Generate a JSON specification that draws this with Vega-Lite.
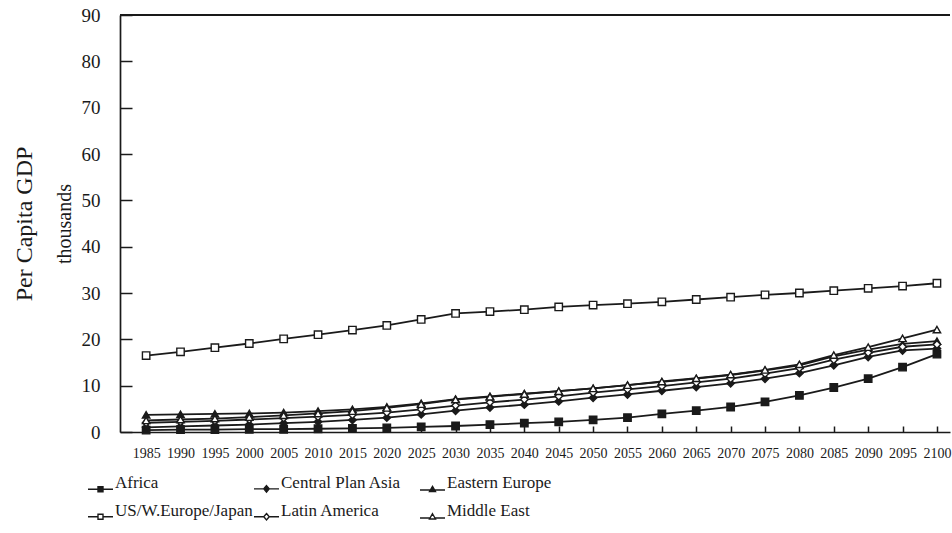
{
  "$schema": "https://vega.github.io/schema/vega-lite/v6.json",
  "width": 830,
  "height": 417,
  "autosize": {"type": "none"},
  "padding": {"left": 120, "top": 15, "right": 2, "bottom": 101},
  "background": "white",
  "config": {
    "view": {"stroke": null},
    "font": "Liberation Serif",
    "axis": {
      "labelFont": "Liberation Serif",
      "titleFont": "Liberation Serif",
      "labelColor": "#1a1a1a",
      "titleColor": "#1a1a1a",
      "domainColor": "#1a1a1a",
      "tickColor": "#1a1a1a",
      "domainWidth": 1.7,
      "tickWidth": 1.5,
      "grid": false,
      "titleFontWeight": "normal"
    },
    "legend": {
      "title": null,
      "orient": "none",
      "direction": "horizontal",
      "legendX": -33,
      "legendY": 454,
      "columns": 3,
      "gridAlign": "all",
      "columnPadding": -4,
      "rowPadding": 2,
      "padding": 0,
      "symbolSize": 625,
      "symbolOpacity": 1,
      "symbolStrokeWidth": 1.4,
      "labelFont": "Liberation Serif",
      "labelFontSize": 17,
      "labelColor": "#1a1a1a",
      "labelOffset": 1,
      "labelLimit": 0
    }
  },
  "data": {"values": [
    {"region": "Africa", "year": 1985, "gdp": 0.4}, {"region": "Africa", "year": 1990, "gdp": 0.5}, {"region": "Africa", "year": 1995, "gdp": 0.5}, {"region": "Africa", "year": 2000, "gdp": 0.6}, {"region": "Africa", "year": 2005, "gdp": 0.6}, {"region": "Africa", "year": 2010, "gdp": 0.7}, {"region": "Africa", "year": 2015, "gdp": 0.8}, {"region": "Africa", "year": 2020, "gdp": 0.9}, {"region": "Africa", "year": 2025, "gdp": 1.1}, {"region": "Africa", "year": 2030, "gdp": 1.3}, {"region": "Africa", "year": 2035, "gdp": 1.6}, {"region": "Africa", "year": 2040, "gdp": 1.9}, {"region": "Africa", "year": 2045, "gdp": 2.2}, {"region": "Africa", "year": 2050, "gdp": 2.6}, {"region": "Africa", "year": 2055, "gdp": 3.1}, {"region": "Africa", "year": 2060, "gdp": 3.9}, {"region": "Africa", "year": 2065, "gdp": 4.6}, {"region": "Africa", "year": 2070, "gdp": 5.4}, {"region": "Africa", "year": 2075, "gdp": 6.5}, {"region": "Africa", "year": 2080, "gdp": 7.9}, {"region": "Africa", "year": 2085, "gdp": 9.6}, {"region": "Africa", "year": 2090, "gdp": 11.5}, {"region": "Africa", "year": 2095, "gdp": 14.0}, {"region": "Africa", "year": 2100, "gdp": 16.8},
    {"region": "Central Plan Asia", "year": 1985, "gdp": 1.0}, {"region": "Central Plan Asia", "year": 1990, "gdp": 1.2}, {"region": "Central Plan Asia", "year": 1995, "gdp": 1.4}, {"region": "Central Plan Asia", "year": 2000, "gdp": 1.6}, {"region": "Central Plan Asia", "year": 2005, "gdp": 1.9}, {"region": "Central Plan Asia", "year": 2010, "gdp": 2.2}, {"region": "Central Plan Asia", "year": 2015, "gdp": 2.6}, {"region": "Central Plan Asia", "year": 2020, "gdp": 3.1}, {"region": "Central Plan Asia", "year": 2025, "gdp": 3.8}, {"region": "Central Plan Asia", "year": 2030, "gdp": 4.6}, {"region": "Central Plan Asia", "year": 2035, "gdp": 5.3}, {"region": "Central Plan Asia", "year": 2040, "gdp": 5.9}, {"region": "Central Plan Asia", "year": 2045, "gdp": 6.6}, {"region": "Central Plan Asia", "year": 2050, "gdp": 7.4}, {"region": "Central Plan Asia", "year": 2055, "gdp": 8.1}, {"region": "Central Plan Asia", "year": 2060, "gdp": 8.9}, {"region": "Central Plan Asia", "year": 2065, "gdp": 9.7}, {"region": "Central Plan Asia", "year": 2070, "gdp": 10.5}, {"region": "Central Plan Asia", "year": 2075, "gdp": 11.5}, {"region": "Central Plan Asia", "year": 2080, "gdp": 12.7}, {"region": "Central Plan Asia", "year": 2085, "gdp": 14.4}, {"region": "Central Plan Asia", "year": 2090, "gdp": 16.2}, {"region": "Central Plan Asia", "year": 2095, "gdp": 17.6}, {"region": "Central Plan Asia", "year": 2100, "gdp": 18.0},
    {"region": "Eastern Europe", "year": 1985, "gdp": 3.7}, {"region": "Eastern Europe", "year": 1990, "gdp": 3.8}, {"region": "Eastern Europe", "year": 1995, "gdp": 3.9}, {"region": "Eastern Europe", "year": 2000, "gdp": 4.0}, {"region": "Eastern Europe", "year": 2005, "gdp": 4.2}, {"region": "Eastern Europe", "year": 2010, "gdp": 4.5}, {"region": "Eastern Europe", "year": 2015, "gdp": 4.9}, {"region": "Eastern Europe", "year": 2020, "gdp": 5.4}, {"region": "Eastern Europe", "year": 2025, "gdp": 6.2}, {"region": "Eastern Europe", "year": 2030, "gdp": 7.1}, {"region": "Eastern Europe", "year": 2035, "gdp": 7.7}, {"region": "Eastern Europe", "year": 2040, "gdp": 8.3}, {"region": "Eastern Europe", "year": 2045, "gdp": 8.8}, {"region": "Eastern Europe", "year": 2050, "gdp": 9.4}, {"region": "Eastern Europe", "year": 2055, "gdp": 10.1}, {"region": "Eastern Europe", "year": 2060, "gdp": 10.8}, {"region": "Eastern Europe", "year": 2065, "gdp": 11.5}, {"region": "Eastern Europe", "year": 2070, "gdp": 12.3}, {"region": "Eastern Europe", "year": 2075, "gdp": 13.3}, {"region": "Eastern Europe", "year": 2080, "gdp": 14.4}, {"region": "Eastern Europe", "year": 2085, "gdp": 16.3}, {"region": "Eastern Europe", "year": 2090, "gdp": 17.8}, {"region": "Eastern Europe", "year": 2095, "gdp": 19.0}, {"region": "Eastern Europe", "year": 2100, "gdp": 19.6},
    {"region": "US/W.Europe/Japan", "year": 1985, "gdp": 16.5}, {"region": "US/W.Europe/Japan", "year": 1990, "gdp": 17.3}, {"region": "US/W.Europe/Japan", "year": 1995, "gdp": 18.2}, {"region": "US/W.Europe/Japan", "year": 2000, "gdp": 19.1}, {"region": "US/W.Europe/Japan", "year": 2005, "gdp": 20.1}, {"region": "US/W.Europe/Japan", "year": 2010, "gdp": 21.0}, {"region": "US/W.Europe/Japan", "year": 2015, "gdp": 22.0}, {"region": "US/W.Europe/Japan", "year": 2020, "gdp": 23.0}, {"region": "US/W.Europe/Japan", "year": 2025, "gdp": 24.3}, {"region": "US/W.Europe/Japan", "year": 2030, "gdp": 25.6}, {"region": "US/W.Europe/Japan", "year": 2035, "gdp": 26.0}, {"region": "US/W.Europe/Japan", "year": 2040, "gdp": 26.4}, {"region": "US/W.Europe/Japan", "year": 2045, "gdp": 27.0}, {"region": "US/W.Europe/Japan", "year": 2050, "gdp": 27.4}, {"region": "US/W.Europe/Japan", "year": 2055, "gdp": 27.7}, {"region": "US/W.Europe/Japan", "year": 2060, "gdp": 28.1}, {"region": "US/W.Europe/Japan", "year": 2065, "gdp": 28.6}, {"region": "US/W.Europe/Japan", "year": 2070, "gdp": 29.1}, {"region": "US/W.Europe/Japan", "year": 2075, "gdp": 29.6}, {"region": "US/W.Europe/Japan", "year": 2080, "gdp": 30.0}, {"region": "US/W.Europe/Japan", "year": 2085, "gdp": 30.5}, {"region": "US/W.Europe/Japan", "year": 2090, "gdp": 31.0}, {"region": "US/W.Europe/Japan", "year": 2095, "gdp": 31.5}, {"region": "US/W.Europe/Japan", "year": 2100, "gdp": 32.1},
    {"region": "Latin America", "year": 1985, "gdp": 2.0}, {"region": "Latin America", "year": 1990, "gdp": 2.2}, {"region": "Latin America", "year": 1995, "gdp": 2.4}, {"region": "Latin America", "year": 2000, "gdp": 2.7}, {"region": "Latin America", "year": 2005, "gdp": 3.0}, {"region": "Latin America", "year": 2010, "gdp": 3.3}, {"region": "Latin America", "year": 2015, "gdp": 3.7}, {"region": "Latin America", "year": 2020, "gdp": 4.2}, {"region": "Latin America", "year": 2025, "gdp": 4.9}, {"region": "Latin America", "year": 2030, "gdp": 5.7}, {"region": "Latin America", "year": 2035, "gdp": 6.4}, {"region": "Latin America", "year": 2040, "gdp": 7.0}, {"region": "Latin America", "year": 2045, "gdp": 7.7}, {"region": "Latin America", "year": 2050, "gdp": 8.5}, {"region": "Latin America", "year": 2055, "gdp": 9.2}, {"region": "Latin America", "year": 2060, "gdp": 9.9}, {"region": "Latin America", "year": 2065, "gdp": 10.7}, {"region": "Latin America", "year": 2070, "gdp": 11.5}, {"region": "Latin America", "year": 2075, "gdp": 12.6}, {"region": "Latin America", "year": 2080, "gdp": 13.8}, {"region": "Latin America", "year": 2085, "gdp": 15.6}, {"region": "Latin America", "year": 2090, "gdp": 17.1}, {"region": "Latin America", "year": 2095, "gdp": 18.4}, {"region": "Latin America", "year": 2100, "gdp": 18.9},
    {"region": "Middle East", "year": 1985, "gdp": 2.5}, {"region": "Middle East", "year": 1990, "gdp": 2.7}, {"region": "Middle East", "year": 1995, "gdp": 2.9}, {"region": "Middle East", "year": 2000, "gdp": 3.2}, {"region": "Middle East", "year": 2005, "gdp": 3.6}, {"region": "Middle East", "year": 2010, "gdp": 4.0}, {"region": "Middle East", "year": 2015, "gdp": 4.5}, {"region": "Middle East", "year": 2020, "gdp": 5.2}, {"region": "Middle East", "year": 2025, "gdp": 6.0}, {"region": "Middle East", "year": 2030, "gdp": 7.0}, {"region": "Middle East", "year": 2035, "gdp": 7.6}, {"region": "Middle East", "year": 2040, "gdp": 8.2}, {"region": "Middle East", "year": 2045, "gdp": 8.8}, {"region": "Middle East", "year": 2050, "gdp": 9.4}, {"region": "Middle East", "year": 2055, "gdp": 10.1}, {"region": "Middle East", "year": 2060, "gdp": 10.9}, {"region": "Middle East", "year": 2065, "gdp": 11.6}, {"region": "Middle East", "year": 2070, "gdp": 12.4}, {"region": "Middle East", "year": 2075, "gdp": 13.4}, {"region": "Middle East", "year": 2080, "gdp": 14.6}, {"region": "Middle East", "year": 2085, "gdp": 16.6}, {"region": "Middle East", "year": 2090, "gdp": 18.3}, {"region": "Middle East", "year": 2095, "gdp": 20.2}, {"region": "Middle East", "year": 2100, "gdp": 22.1}
  ]},
  "resolve": {
    "axis": {"y": "independent"},
    "scale": {"shape": "independent", "fill": "independent", "stroke": "independent"},
    "legend": {"shape": "independent", "fill": "independent", "stroke": "independent"}
  },
  "layer": [
    {
      "mark": {"type": "line", "color": "#1a1a1a", "strokeWidth": 1.8},
      "encoding": {
        "x": {
          "field": "year", "type": "quantitative",
          "scale": {"domain": [1981.2, 2101.9], "nice": false, "zero": false},
          "axis": {
            "title": null,
            "values": [1985, 1990, 1995, 2000, 2005, 2010, 2015, 2020, 2025, 2030, 2035, 2040, 2045, 2050, 2055, 2060, 2065, 2070, 2075, 2080, 2085, 2090, 2095, 2100],
            "format": "d",
            "labelFont": "Liberation Serif",
            "labelFontSize": 14,
            "labelOverlap": false,
            "labelSeparation": -20,
            "labelFlush": false,
            "labelBaseline": "top",
            "tickSize": -6,
            "labelPadding": 20
          }
        },
        "y": {
          "field": "gdp", "type": "quantitative",
          "scale": {"domain": [0, 90], "nice": false},
          "axis": {
            "values": [0, 10, 20, 30, 40, 50, 60, 70, 80, 90],
            "labelFont": "Liberation Serif",
            "labelFontSize": 19,
            "tickSize": -12,
            "labelPadding": 32,
            "title": "Per Capita GDP",
            "titleFont": "Liberation Serif",
            "titleFontSize": 24,
            "titleAngle": 270,
            "titleBaseline": "alphabetic",
            "titleAlign": "center",
            "titleX": -89,
            "titleY": 208.5
          }
        },
        "detail": {"field": "region"}
      }
    },
    {
      "mark": {"type": "point", "filled": true, "stroke": "#1a1a1a", "strokeWidth": 1.4, "opacity": 1, "size": 55},
      "encoding": {
        "x": {
          "field": "year", "type": "quantitative",
          "axis": {
            "title": null,
            "values": [1985, 1990, 1995, 2000, 2005, 2010, 2015, 2020, 2025, 2030, 2035, 2040, 2045, 2050, 2055, 2060, 2065, 2070, 2075, 2080, 2085, 2090, 2095, 2100],
            "format": "d",
            "labelFont": "Liberation Serif",
            "labelFontSize": 14,
            "labelOverlap": false,
            "labelSeparation": -20,
            "labelFlush": false,
            "labelBaseline": "top",
            "tickSize": -6,
            "labelPadding": 20
          }
        },
        "y": {"field": "gdp", "type": "quantitative", "axis": null},
        "shape": {
          "field": "region", "type": "nominal",
          "scale": {
            "domain": ["Africa", "Central Plan Asia", "Eastern Europe", "US/W.Europe/Japan", "Latin America", "Middle East"],
            "range": ["square", "diamond", "triangle-up", "square", "diamond", "triangle-up"]
          },
          "legend": null
        },
        "fill": {
          "field": "region", "type": "nominal",
          "scale": {
            "domain": ["Africa", "Central Plan Asia", "Eastern Europe", "US/W.Europe/Japan", "Latin America", "Middle East"],
            "range": ["#1a1a1a", "#1a1a1a", "#1a1a1a", "white", "white", "white"]
          },
          "legend": null
        }
      }
    },
    {
      "mark": {"type": "point", "filled": true, "opacity": 0, "strokeWidth": 1.4},
      "encoding": {
        "shape": {
          "field": "region", "type": "nominal",
          "scale": {
            "domain": ["Africa", "Central Plan Asia", "Eastern Europe", "US/W.Europe/Japan", "Latin America", "Middle East"],
            "range": [
              "M-1,0.5H1M-0.2,0.3H0.2V0.7H-0.2Z",
              "M-1,0.5H1M0,0.24L0.22,0.5L0,0.76L-0.22,0.5Z",
              "M-1,0.55H1M0,0.26L0.24,0.68H-0.24Z",
              "M-1,0.5H-0.2M0.2,0.5H1M-0.2,0.3H0.2V0.7H-0.2Z",
              "M-1,0.5H-0.22M0.22,0.5H1M0,0.24L0.22,0.5L0,0.76L-0.22,0.5Z",
              "M-1,0.6H-0.2M0.2,0.6H1M0,0.26L0.24,0.68H-0.24Z"
            ]
          },
          "legend": {}
        },
        "fill": {
          "field": "region", "type": "nominal",
          "scale": {
            "domain": ["Africa", "Central Plan Asia", "Eastern Europe", "US/W.Europe/Japan", "Latin America", "Middle East"],
            "range": ["#1a1a1a", "#1a1a1a", "#1a1a1a", "white", "white", "white"]
          },
          "legend": {}
        },
        "stroke": {
          "field": "region", "type": "nominal",
          "scale": {
            "domain": ["Africa", "Central Plan Asia", "Eastern Europe", "US/W.Europe/Japan", "Latin America", "Middle East"],
            "range": ["#1a1a1a", "#1a1a1a", "#1a1a1a", "#1a1a1a", "#1a1a1a", "#1a1a1a"]
          },
          "legend": {}
        }
      }
    },
    {
      "mark": {"type": "rule", "color": "#1a1a1a", "strokeWidth": 1.7},
      "encoding": {
        "y": {
          "datum": 90, "type": "quantitative",
          "axis": {
            "orient": "left",
            "title": "thousands",
            "titleFont": "Liberation Serif",
            "labels": false,
            "ticks": false,
            "domain": false,
            "titleFontSize": 20,
            "titleAngle": 270,
            "titleBaseline": "alphabetic",
            "titleAlign": "center",
            "titleX": -50,
            "titleY": 208.5
          }
        }
      }
    }
  ]
}
